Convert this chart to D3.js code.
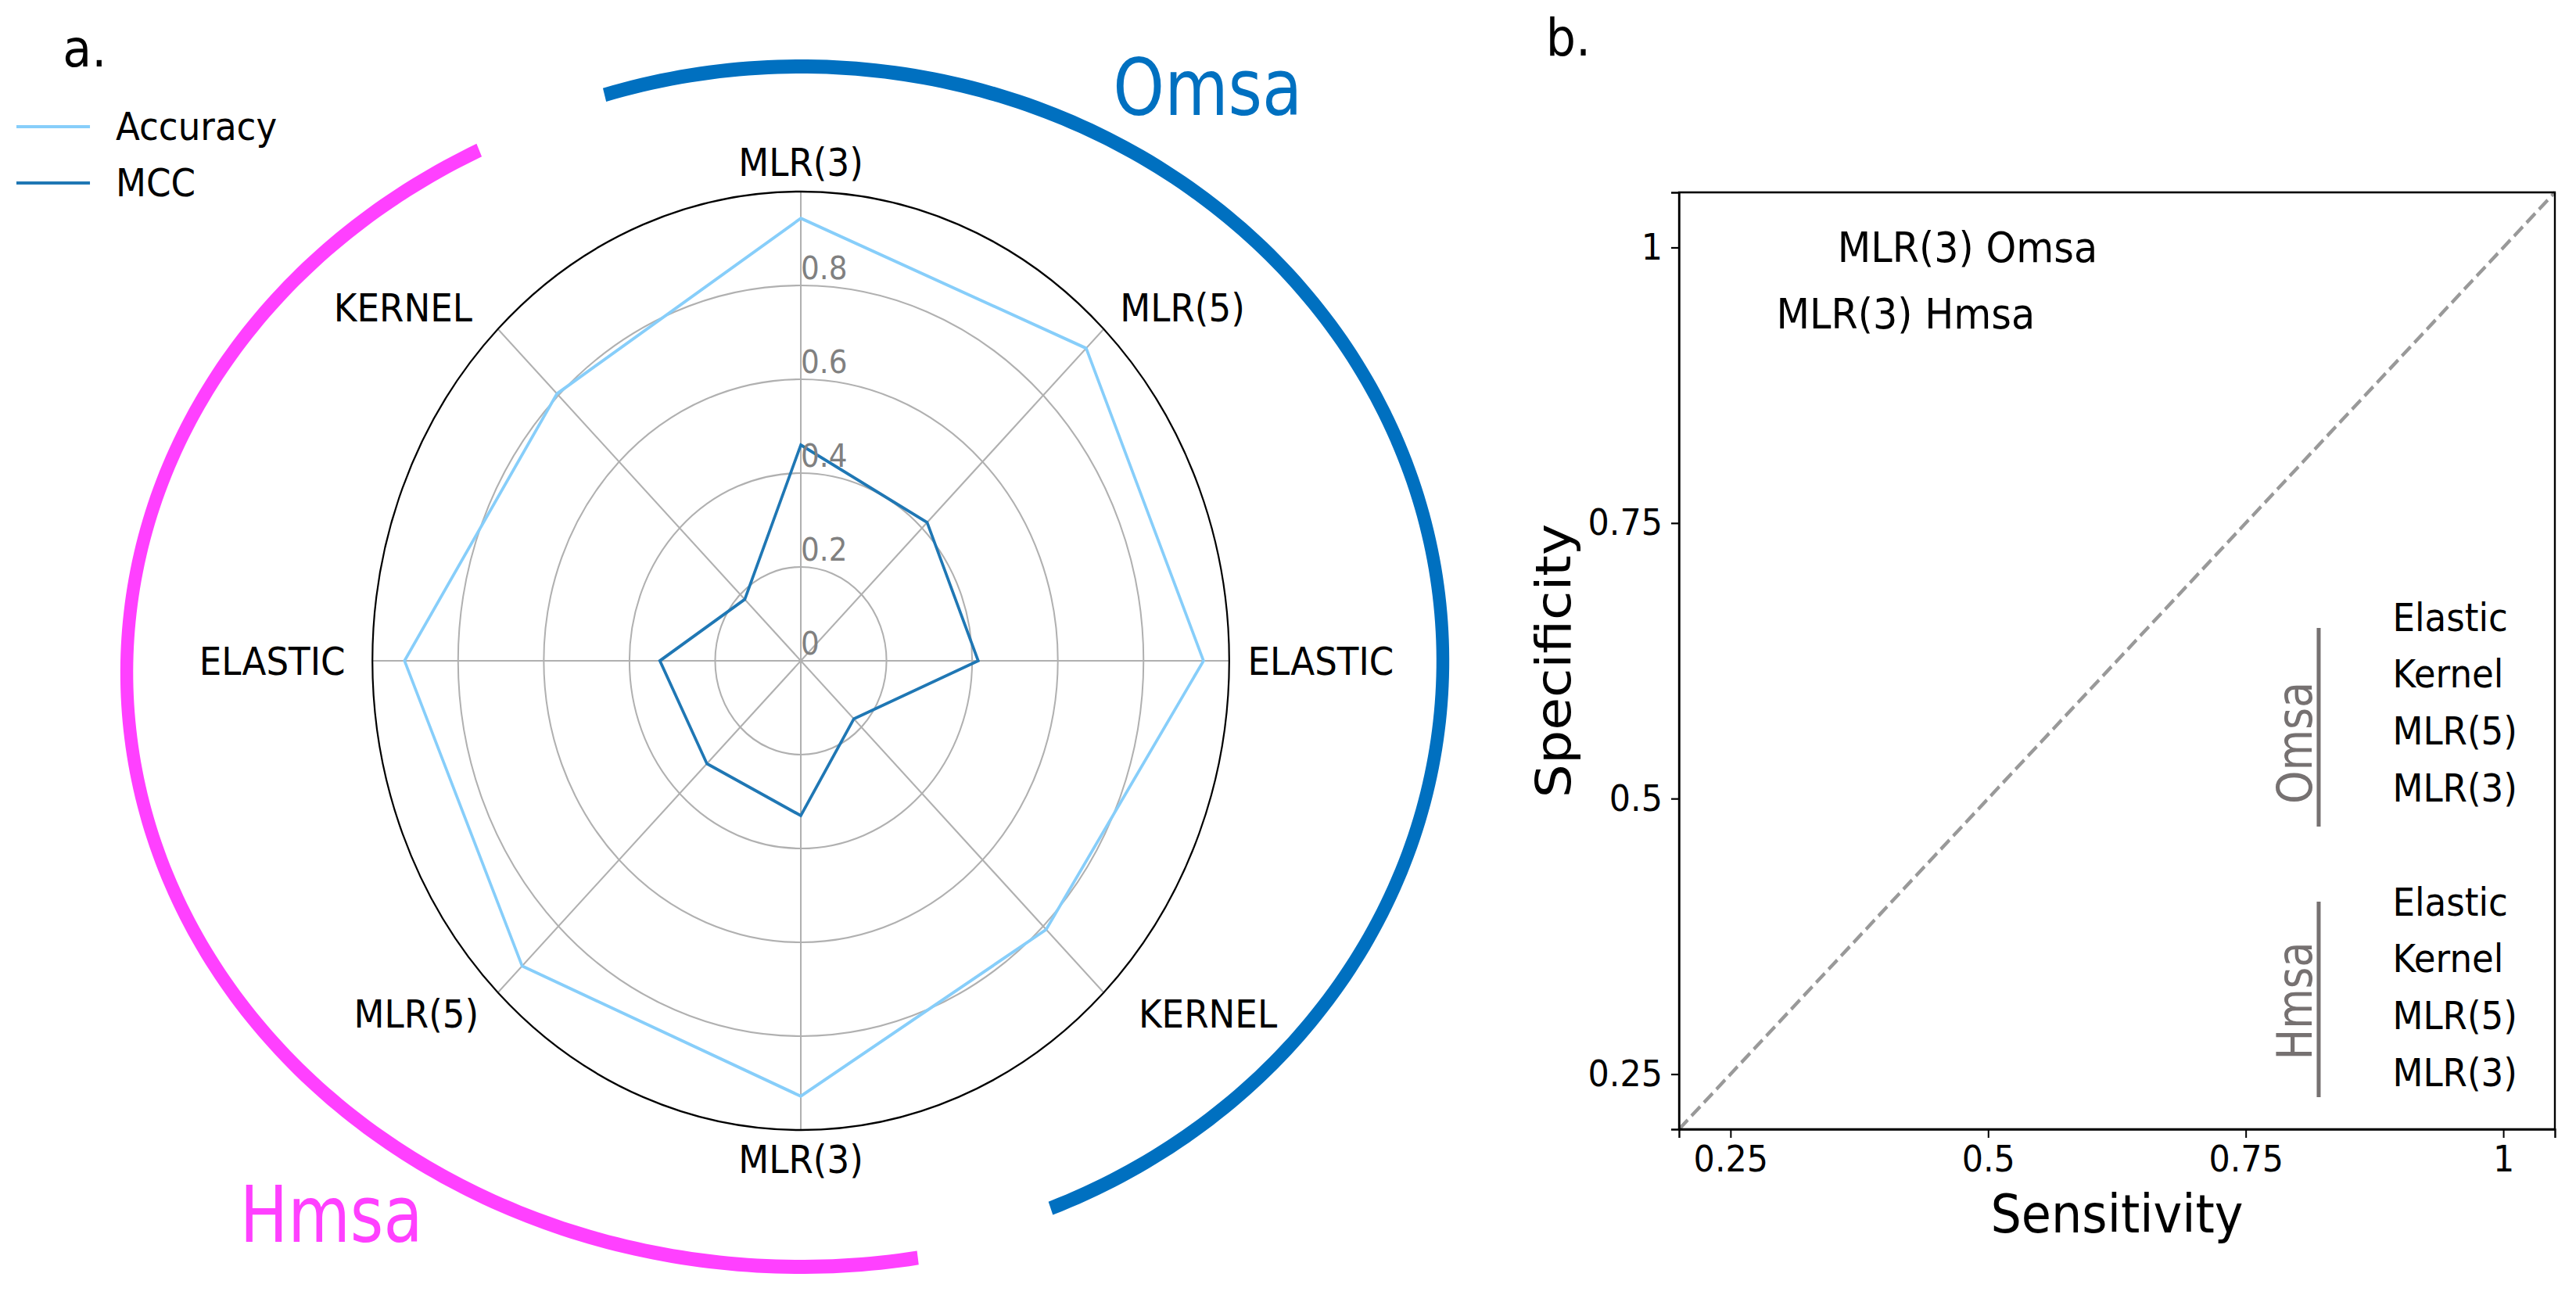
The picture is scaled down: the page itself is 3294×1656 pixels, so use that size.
<!DOCTYPE html>
<html>
<head>
<meta charset="utf-8">
<script src="https://cdn.jsdelivr.net/npm/d3@7"></script>
<style>
  html, body { margin: 0; padding: 0; background: #ffffff; }
  svg { display: block; }
  text { font-family: "DejaVu Sans", sans-serif; }
</style>
</head>
<body>
<script>
// ---------------- data ----------------
const radarAxes   = ["MLR(3)", "MLR(5)", "ELASTIC", "KERNEL", "MLR(3)", "MLR(5)", "ELASTIC", "KERNEL"];
const accuracy    = [0.943, 0.942, 0.940, 0.810, 0.928, 0.920, 0.925, 0.805];
const mcc         = [0.460, 0.417, 0.414, 0.175, 0.330, 0.310, 0.329, 0.185];
const radialTicks = [0, 0.2, 0.4, 0.6, 0.8];
const seriesNames = ["Accuracy", "MCC"];
const seriesColors = ["#87cefa", "#1f77b4"];

const rocLabels = ["MLR(3) Omsa", "MLR(3) Hmsa"];
const rocSens   = [0.48, 0.42];
const rocSpec   = [1.00, 0.94];
const rocXTicks = [0.25, 0.5, 0.75, 1];
const rocYTicks = [0.25, 0.5, 0.75, 1];
const listGroups = ["Omsa", "Hmsa"];
const listModels = ["Elastic", "Kernel", "MLR(5)", "MLR(3)"];

// ---------------- canvas ----------------
const W = 3294, H = 1656, SX = 0.913;
const VW = W / SX;
const svg = d3.select("body").append("svg")
  .attr("width", W).attr("height", H)
  .attr("viewBox", `0 0 ${VW} ${H}`)
  .attr("preserveAspectRatio", "none");

// ---------------- panel a: radar ----------------
const cx = 1121.6, cy = 845, R = 600;
const r = d3.scaleLinear().domain([0, 1]).range([0, R]);
const ang = d3.scaleLinear().domain([0, radarAxes.length]).range([0, 2 * Math.PI]);
const g = svg.append("g").attr("transform", `translate(${cx},${cy})`);

// rings
g.selectAll("circle.ring").data(radialTicks.filter(v => v > 0)).join("circle")
  .attr("r", d => r(d)).attr("fill", "none").attr("stroke", "#b0b0b0").attr("stroke-width", 2.2);
// spokes
g.selectAll("line.spoke").data(radarAxes).join("line")
  .attr("x1", 0).attr("y1", 0)
  .attr("x2", (d, i) => r(1) * Math.sin(ang(i)))
  .attr("y2", (d, i) => -r(1) * Math.cos(ang(i)))
  .attr("stroke", "#b0b0b0").attr("stroke-width", 2.2);
// outer circle
g.append("circle").attr("r", r(1)).attr("fill", "none").attr("stroke", "#000").attr("stroke-width", 2.4);

// series
const radial = d3.lineRadial().angle((d, i) => ang(i)).radius(d => r(d)).curve(d3.curveLinearClosed);
[accuracy, mcc].forEach((s, k) => {
  g.append("path").attr("d", radial(s)).attr("fill", "none")
    .attr("stroke", seriesColors[k]).attr("stroke-width", 4).attr("stroke-linejoin", "miter");
});

// radial tick labels
g.selectAll("text.rt").data(radialTicks).join("text")
  .attr("x", 0).attr("y", d => -r(d) - 8)
  .attr("font-size", 41).attr("fill", "#808080")
  .text(d => d3.format("")(d));

// angular labels
const RL = 638;
const labelNudge = [0, -4, -12, 22, 0, 0, 0, -9];
g.selectAll("text.al").data(radarAxes).join("text")
  .attr("x", (d, i) => RL * Math.sin(ang(i)) + labelNudge[i])
  .attr("y", (d, i) => -RL * Math.cos(ang(i)) + 17.5)
  .attr("text-anchor", (d, i) => {
    const s = Math.sin(ang(i));
    return s > 0.01 ? "start" : (s < -0.01 ? "end" : "middle");
  })
  .attr("font-size", 49.5).attr("fill", "#000")
  .text(d => d);

// group arcs (ellipse arcs around the radar)
function ellArc(ex, ey, rx, ry, t0, t1) {
  const pts = d3.range(0, 201).map(k => {
    const t = (t0 + (t1 - t0) * k / 200) * Math.PI / 180;
    return [ex + rx * Math.sin(t), ey - ry * Math.cos(t)];
  });
  return d3.line()(pts);
}
svg.append("path").attr("d", ellArc(cx, 845, 899.2, 760, -17.8, 157.1))
  .attr("fill", "none").attr("stroke", "#0070c0").attr("stroke-width", 18);
svg.append("path").attr("d", ellArc(cx, 860, 944.1, 760, 170, 331.5))
  .attr("fill", "none").attr("stroke", "#ff40ff").attr("stroke-width", 18);

svg.append("text").attr("x", 1559).attr("y", 147.5)
  .attr("font-family", "Open Sans").attr("font-size", 100).attr("fill", "#0070c0")
  .attr("textLength", 265).attr("lengthAdjust", "spacingAndGlyphs").text(listGroups[0]);
svg.append("text").attr("x", 336).attr("y", 1588.3)
  .attr("font-family", "Open Sans").attr("font-size", 100).attr("fill", "#ff40ff")
  .attr("textLength", 256).attr("lengthAdjust", "spacingAndGlyphs").text(listGroups[1]);

// panel label + legend
svg.append("text").attr("x", 88).attr("y", 85).attr("font-size", 66).text("a.");
const leg = svg.append("g");
seriesNames.forEach((n, k) => {
  const y = 162 + k * 72;
  leg.append("line").attr("x1", 23).attr("x2", 126).attr("y1", y).attr("y2", y)
    .attr("stroke", seriesColors[k]).attr("stroke-width", 4.2);
  leg.append("text").attr("x", 162).attr("y", y + 17.5).attr("font-size", 49.5).text(n);
});

// ---------------- panel b: ROC-like ----------------
const x0 = 2351.6, x1 = 3578.3, y0 = 1444, y1 = 246;
const xs = d3.scaleLinear().domain([0.2, 1.05]).range([x0, x1]);
const ys = d3.scaleLinear().domain([0.2, 1.05]).range([y0, y1]);

svg.append("text").attr("x", 2165).attr("y", 71).attr("font-size", 66).text("b.");

// diagonal
svg.append("line")
  .attr("x1", xs(0.2)).attr("y1", ys(0.2)).attr("x2", xs(1.05)).attr("y2", ys(1.05))
  .attr("stroke", "#999999").attr("stroke-width", 4.6).attr("stroke-dasharray", "17,7.4");

const fmt = d => d3.format("")(d);
const xAxis = svg.append("g").attr("transform", `translate(0,${y0})`)
  .call(d3.axisBottom(xs).tickValues(rocXTicks).tickFormat(fmt).tickSizeInner(11).tickSizeOuter(11).tickPadding(10));
const yAxis = svg.append("g").attr("transform", `translate(${x0},0)`)
  .call(d3.axisLeft(ys).tickValues(rocYTicks).tickFormat(fmt).tickSizeInner(11).tickSizeOuter(11).tickPadding(12));
[xAxis, yAxis].forEach(a => {
  a.selectAll("text").attr("font-size", 47).attr("font-family", "DejaVu Sans").attr("fill", "#000");
  a.selectAll("line").attr("stroke", "#000").attr("stroke-width", 2.2);
  a.select(".domain").attr("stroke", "#000").attr("stroke-width", 2.6);
});
// box
svg.append("rect").attr("x", x0).attr("y", y1).attr("width", x1 - x0).attr("height", y0 - y1)
  .attr("fill", "none").attr("stroke", "#000").attr("stroke-width", 2.6);

// axis titles
svg.append("text").attr("x", (x0 + x1) / 2).attr("y", 1576).attr("text-anchor", "middle")
  .attr("font-size", 68).text("Sensitivity");
svg.append("text").attr("transform", `translate(2199,${(y0 + y1) / 2}) rotate(-90)`)
  .attr("text-anchor", "middle").attr("font-size", 68).text("Specificity");

// point labels
svg.selectAll("text.pt").data(rocLabels).join("text")
  .attr("x", (d, i) => xs(rocSens[i])).attr("y", (d, i) => ys(rocSpec[i]) + 19)
  .attr("text-anchor", "middle").attr("font-size", 54).text(d => d);

// grouped list
const baseY = 806.7, step = 72.8;
const barSpan = [[803, 1057], [1153, 1403]];
const grpMid = [950, 1280];
const grpLen = [156, 151];
listGroups.forEach((grp, gi) => {
  listModels.forEach((m, mi) => {
    svg.append("text").attr("x", 3351).attr("y", baseY + step * (gi * 5 + mi))
      .attr("font-size", 49.5).text(m);
  });
  svg.append("line").attr("x1", 3247.5).attr("x2", 3247.5)
    .attr("y1", barSpan[gi][0]).attr("y2", barSpan[gi][1])
    .attr("stroke", "#767171").attr("stroke-width", 5.5);
  svg.append("text").attr("transform", `translate(3237.6,${grpMid[gi]}) rotate(-90)`)
    .attr("text-anchor", "middle").attr("font-family", "Open Sans").attr("font-size", 68)
    .attr("fill", "#767171").attr("textLength", grpLen[gi]).attr("lengthAdjust", "spacingAndGlyphs")
    .text(grp);
});
</script>
</body>
</html>
